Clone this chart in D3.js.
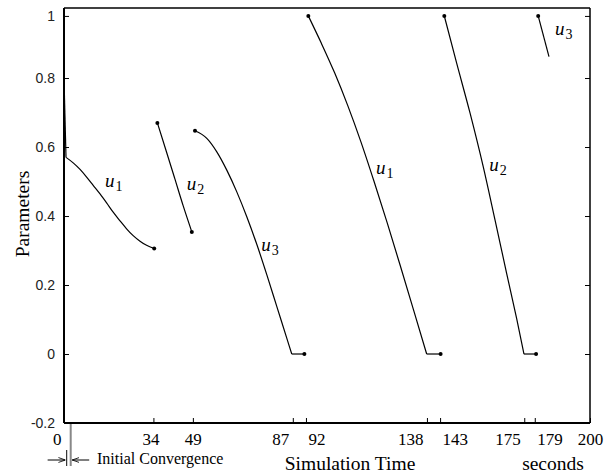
<!DOCTYPE html>
<html>
<head>
<meta charset="utf-8">
<script src="https://cdn.jsdelivr.net/npm/d3@7"></script>
<style>
  html, body { margin: 0; padding: 0; background: #fff; }
  svg { display: block; }
</style>
</head>
<body>
<script>
// ---------------- data ----------------
const xTickValues = [0, 34, 49, 87, 92, 138, 143, 175, 179, 200];
const yTickValues = [-0.2, 0, 0.2, 0.4, 0.6, 0.8, 0.98];
const yTickLabels = ["-0.2", "0", "0.2", "0.4", "0.6", "0.8", "1"];

// initial convergence (fast drop at start)
const convergenceTime  = [0, 0.76];
const convergenceValue = [0.797, 0.570];

// first round
const u1aTime  = [0.76, 3.5, 6.1, 8.6, 11.1, 13.7, 16.2, 18.7, 21.3, 23.8, 26.3, 28.9, 31.4, 34.3];
const u1aValue = [0.570, 0.554, 0.535, 0.513, 0.489, 0.464, 0.438, 0.411, 0.386, 0.363, 0.343, 0.327, 0.315, 0.306];

const u2aTime  = [35.5, 38.8, 42.1, 45.3, 48.6];
const u2aValue = [0.670, 0.590, 0.509, 0.430, 0.354];

const u3aTime  = [49.8, 54.3, 58.1, 61.9, 65.7, 69.5, 73.3, 77.1, 80.9, 84.7, 86.6, 91.4];
const u3aValue = [0.647, 0.625, 0.586, 0.533, 0.470, 0.398, 0.318, 0.230, 0.138, 0.046, 0, 0];

// second round
const u1bTime  = [92.9, 97.9, 102.9, 107.9, 112.9, 117.9, 122.9, 127.9, 132.9, 137.9, 143.2];
const u1bValue = [0.980, 0.900, 0.815, 0.720, 0.615, 0.500, 0.380, 0.255, 0.128, 0, 0];

const u2bTime  = [144.6, 149.3, 154.4, 159.4, 163.9, 168.3, 172.1, 174.9, 179.5];
const u2bValue = [0.980, 0.843, 0.698, 0.543, 0.388, 0.234, 0.103, 0, 0];

const u3bTime  = [180.3, 184.4];
const u3bValue = [0.980, 0.862];

// curve labels
const labelSub   = ["1", "2", "3", "1", "2", "3"];
const labelTime  = [15.6, 46.7, 75.0, 118.6, 161.7, 186.7];
const labelValue = [0.484, 0.475, 0.300, 0.523, 0.531, 0.925];

// initial convergence marker times
const convergenceMarks = [1.0, 2.55];

// ---------------- chart ----------------
const W = 616, H = 474;
const svg = d3.select("body").append("svg").attr("width", W).attr("height", H);

const x = d3.scaleLinear().domain([0, 200]).range([64, 590]);
const y = d3.scaleLinear().domain([-0.2, 1.003]).range([423, 8]);

const serif = "'Liberation Serif', 'Times New Roman', serif";
const sans  = "'Liberation Sans', Arial, sans-serif";

// y axis (left) with inward ticks
const yAxis = d3.axisLeft(y).tickValues(yTickValues)
  .tickFormat((d, i) => yTickLabels[i]).tickSizeInner(-5).tickSizeOuter(0).tickPadding(9);
const gy = svg.append("g").attr("transform", `translate(${x(0)},0)`).call(yAxis);
gy.select(".domain").remove();
gy.selectAll("text").attr("font-family", sans).attr("font-size", 14).attr("fill", "#222");
gy.selectAll("line").attr("stroke", "#000");

// right axis ticks (inward)
const yAxisR = d3.axisRight(y).tickValues(yTickValues).tickFormat("").tickSizeInner(-5).tickSizeOuter(0);
const gyr = svg.append("g").attr("transform", `translate(${x(200)},0)`).call(yAxisR);
gyr.select(".domain").remove();
gyr.selectAll("line").attr("stroke", "#000");

// x axis (bottom) with inward ticks
const xAxis = d3.axisBottom(x).tickValues(xTickValues).tickFormat(d3.format("d"))
  .tickSizeInner(-5).tickSizeOuter(0).tickPadding(10);
const gx = svg.append("g").attr("transform", `translate(0,${y(-0.2)})`).call(xAxis);
gx.select(".domain").remove();
gx.selectAll("line").attr("stroke", "#000");
gx.selectAll("text").attr("font-family", serif).attr("font-size", 17).attr("fill", "#000")
  .each(function(d, i) {
    const t = d3.select(this);
    const prev = xTickValues[i - 1], next = xTickValues[i + 1];
    if (d === 0) { t.attr("text-anchor", "end").attr("x", -3); }
    else if (next !== undefined && next - d < 8) { t.attr("text-anchor", "end").attr("x", -4); }
    else if (prev !== undefined && d - prev < 8) { t.attr("text-anchor", "start").attr("x", 2); }
    else if (d === 34) { t.attr("x", -3); }
  });

// frame
svg.append("line").attr("x1", x(0)).attr("x2", x(0)).attr("y1", y(1.003)).attr("y2", y(-0.2))
  .attr("stroke", "#000").attr("stroke-width", 2);
svg.append("line").attr("x1", x(0)).attr("x2", x(200)).attr("y1", y(-0.2)).attr("y2", y(-0.2))
  .attr("stroke", "#000").attr("stroke-width", 2);
svg.append("line").attr("x1", x(0)).attr("x2", x(200)).attr("y1", y(1.003)).attr("y2", y(1.003))
  .attr("stroke", "#000").attr("stroke-width", 1.5);
svg.append("line").attr("x1", x(200)).attr("x2", x(200)).attr("y1", y(1.003)).attr("y2", y(-0.2))
  .attr("stroke", "#000").attr("stroke-width", 1.5);

// curves
const zip = (ts, vs) => ts.map((t, i) => [t, vs[i]]);
const smooth = d3.line().x(d => x(d[0])).y(d => y(d[1])).curve(d3.curveMonotoneX);
const straight = d3.line().x(d => x(d[0])).y(d => y(d[1]));

const g = svg.append("g").attr("fill", "none").attr("stroke", "#000").attr("stroke-width", 1.2);

g.append("path").attr("d", straight(zip(convergenceTime, convergenceValue)));

const segments = [
  zip(u1aTime, u1aValue), zip(u2aTime, u2aValue), zip(u3aTime, u3aValue),
  zip(u1bTime, u1bValue), zip(u2bTime, u2bValue), zip(u3bTime, u3bValue)
];

segments.forEach(seg => {
  const zi = seg.findIndex(p => p[1] === 0);
  if (zi > 0) {
    g.append("path").attr("d", smooth(seg.slice(0, zi + 1)));
    g.append("path").attr("d", straight(seg.slice(zi)));
  } else {
    g.append("path").attr("d", smooth(seg));
  }
});

// dots: start of every segment except the first (continues the convergence),
// end of every segment except the last (still running)
const dots = [];
segments.forEach((seg, i) => {
  if (i > 0) dots.push(seg[0]);
  if (i < segments.length - 1) dots.push(seg[seg.length - 1]);
});
svg.append("g").selectAll("circle").data(dots).join("circle")
  .attr("cx", d => x(d[0])).attr("cy", d => y(d[1])).attr("r", 2).attr("fill", "#000");

// curve labels u_i
labelSub.forEach((s, i) => {
  const t = svg.append("text").attr("x", x(labelTime[i])).attr("y", y(labelValue[i]))
    .attr("font-family", serif).attr("font-size", 19).attr("fill", "#000");
  t.append("tspan").attr("font-style", "italic").text("u");
  t.append("tspan").attr("font-size", 14).attr("dy", 4).attr("dx", 1).text(s);
});

// axis titles
svg.append("text").attr("x", 350).attr("y", 470).attr("text-anchor", "middle")
  .attr("font-family", serif).attr("font-size", 19.5).text("Simulation Time");
svg.append("text").attr("x", 553).attr("y", 470).attr("text-anchor", "middle")
  .attr("font-family", serif).attr("font-size", 19.5).text("seconds");
svg.append("text").attr("transform", "translate(29,214) rotate(-90)").attr("text-anchor", "middle")
  .attr("font-family", serif).attr("font-size", 19.5).text("Parameters");

// initial convergence annotation
const defs = svg.append("defs");
defs.append("marker").attr("id", "ah").attr("viewBox", "0 0 10 10").attr("refX", 10).attr("refY", 5)
  .attr("markerWidth", 7).attr("markerHeight", 7).attr("orient", "auto-start-reverse")
  .append("path").attr("d", "M0,1.5 L10,5 L0,8.5").attr("fill", "none").attr("stroke", "#000").attr("stroke-width", 1.2);

const xa = x(convergenceMarks[0]), xb = x(convergenceMarks[1]);
svg.append("line").attr("x1", xa).attr("x2", xa).attr("y1", 450).attr("y2", 466)
  .attr("stroke", "#333").attr("stroke-width", 1.2);
svg.append("line").attr("x1", xb).attr("x2", xb).attr("y1", y(-0.2) + 1).attr("y2", 466)
  .attr("stroke", "#888").attr("stroke-width", 2);
svg.append("line").attr("x1", xa - 19).attr("x2", xa - 1.2).attr("y1", 460).attr("y2", 460)
  .attr("stroke", "#000").attr("stroke-width", 1).attr("marker-end", "url(#ah)");
svg.append("line").attr("x1", xb + 18.5).attr("x2", xb + 1.5).attr("y1", 460).attr("y2", 460)
  .attr("stroke", "#000").attr("stroke-width", 1).attr("marker-end", "url(#ah)");
svg.append("text").attr("x", 97).attr("y", 464).attr("font-family", serif).attr("font-size", 16)
  .text("Initial Convergence");
</script>
</body>
</html>
